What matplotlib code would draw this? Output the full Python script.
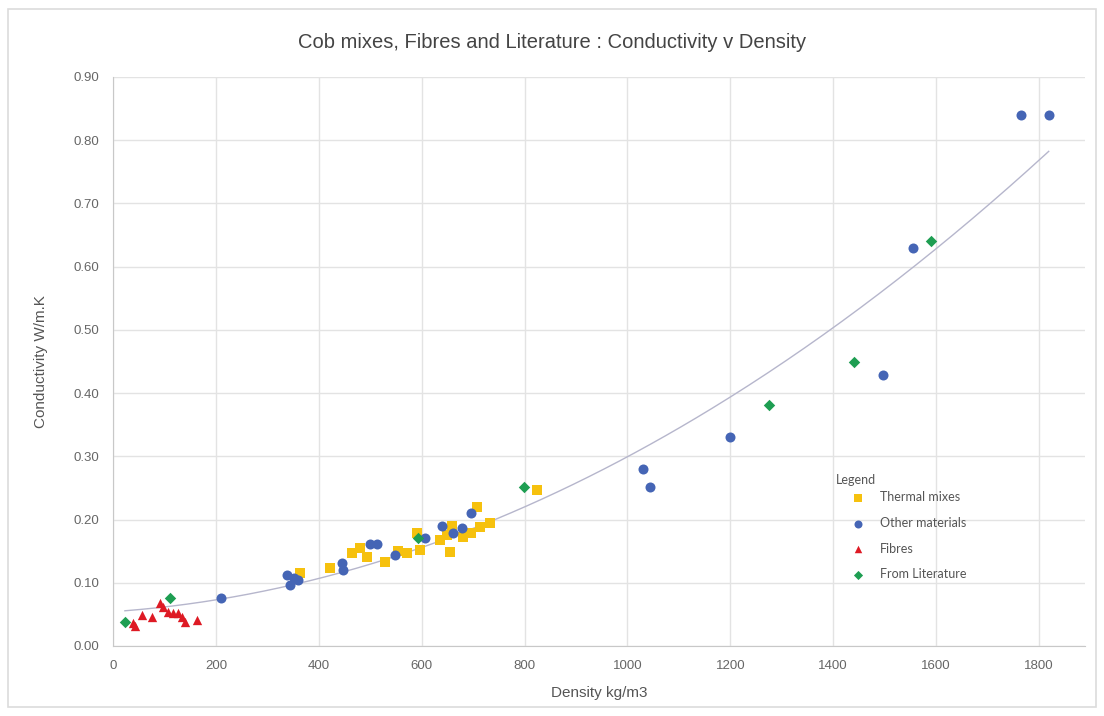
import numpy as np
import matplotlib
matplotlib.use("Agg")
import matplotlib.pyplot as plt
from matplotlib.patches import Rectangle

# Thermal mixes (yellow squares)
thermal_density = [364, 422, 465, 481, 494, 529, 553, 572, 591, 597, 636, 650,
                   656, 659, 681, 695, 708, 714, 733, 825]
thermal_cond = [0.115, 0.123, 0.147, 0.155, 0.141, 0.133, 0.150, 0.147, 0.179, 0.152,
                0.168, 0.176, 0.149, 0.190, 0.173, 0.179, 0.220, 0.188, 0.195, 0.247]

# Other materials (blue circles)
other_density = [210, 338, 344, 352, 360, 446, 448, 500, 514, 549, 607, 640, 660,
                 679, 696, 1031, 1043, 1200, 1496, 1556, 1765, 1819]
other_cond = [0.076, 0.112, 0.097, 0.108, 0.104, 0.131, 0.120, 0.161, 0.161, 0.144,
              0.171, 0.190, 0.178, 0.187, 0.210, 0.280, 0.252, 0.331, 0.429, 0.630,
              0.840, 0.840]

# Fibres (red triangles)
fibre_density = [39, 43, 56, 75, 91, 97, 107, 117, 126, 134, 140, 163]
fibre_cond = [0.036, 0.032, 0.049, 0.046, 0.068, 0.062, 0.054, 0.052, 0.052,
              0.046, 0.038, 0.041]

# From literature (green diamonds)
lit_density = [23, 111, 593, 798, 1276, 1440, 1591]
lit_cond = [0.038, 0.076, 0.171, 0.252, 0.381, 0.449, 0.640]

TITLE = "Cob mixes, Fibres and Literature : Conductivity v Density"
XLABEL = "Density kg/m3"
YLABEL = "Conductivity W/m.K"

YELLOW = "#F6C10E"
BLUE = "#4565B5"
RED = "#DE1A24"
GREEN = "#1E9E52"
TXT = "#555555"

fig = plt.figure(figsize=(11.04, 7.16), dpi=100, facecolor="white")
fig.patches.append(Rectangle((0.007, 0.012), 0.986, 0.976, transform=fig.transFigure,
                             fill=False, edgecolor="#dcdcdc", lw=1.2))
ax = fig.add_axes([0.1024, 0.0978, 0.8806, 0.7947])

# polynomial trendline through all points
all_x = np.array(thermal_density + other_density + fibre_density + lit_density, float)
all_y = np.array(thermal_cond + other_cond + fibre_cond + lit_cond, float)
coef = np.polyfit(all_x, all_y, 2)
tx = np.linspace(all_x.min(), all_x.max(), 300)
ax.plot(tx, np.polyval(coef, tx), color="#b6b6cc", lw=1.0, zorder=2)

ax.scatter(thermal_density, thermal_cond, marker="s", s=52, color=YELLOW,
           label="Thermal mixes", zorder=3, linewidths=0)
ax.scatter(other_density, other_cond, marker="o", s=52, color=BLUE,
           label="Other materials", zorder=3, linewidths=0)
ax.scatter(fibre_density, fibre_cond, marker="^", s=45, color=RED,
           label="Fibres", zorder=3, linewidths=0)
ax.scatter(lit_density, lit_cond, marker="D", s=34, color=GREEN,
           label="From Literature", zorder=4, linewidths=0)

ax.set_xlim(0, 1890)
ax.set_ylim(0, 0.90)
ax.set_xticks(np.arange(0, 1801, 200))
ax.set_yticks(np.arange(0, 0.91, 0.10))
ax.yaxis.set_major_formatter(matplotlib.ticker.FormatStrFormatter("%.2f"))
ax.grid(True, color="#e3e3e3", lw=1.0)
ax.set_axisbelow(True)
for s in ("top", "right"):
    ax.spines[s].set_visible(False)
for s in ("left", "bottom"):
    ax.spines[s].set_color("#c8c8c8")
ax.tick_params(length=0, labelsize=9.5, labelcolor="#666666", pad=10)
for lab in ax.get_xticklabels() + ax.get_yticklabels():
    lab.set_family("Liberation Sans")

ax.set_xlabel(XLABEL, fontsize=11, color=TXT, family="Liberation Sans", labelpad=10)
ax.set_ylabel(YLABEL, fontsize=11, color=TXT, family="Liberation Sans", labelpad=18)
fig.text(0.5, 0.941, TITLE, ha="center", va="center", fontsize=14.5,
         color="#444444", family="Liberation Sans")

# legend title drawn separately so it sits close to the first entry
ax.text(0.744, 0.292, "Legend", transform=ax.transAxes, ha="left", va="center",
        fontsize=9, color=TXT, family="Lato")
leg = ax.legend(loc="upper left", bbox_to_anchor=(0.748, 0.281), frameon=False,
                scatterpoints=1, prop={"family": "Lato", "size": 9},
                labelspacing=1.1, handletextpad=0.76, borderaxespad=0,
                markerscale=0.8)
for t in leg.get_texts():
    t.set_color(TXT)

fig.savefig("out.png", dpi=100, facecolor="white")
